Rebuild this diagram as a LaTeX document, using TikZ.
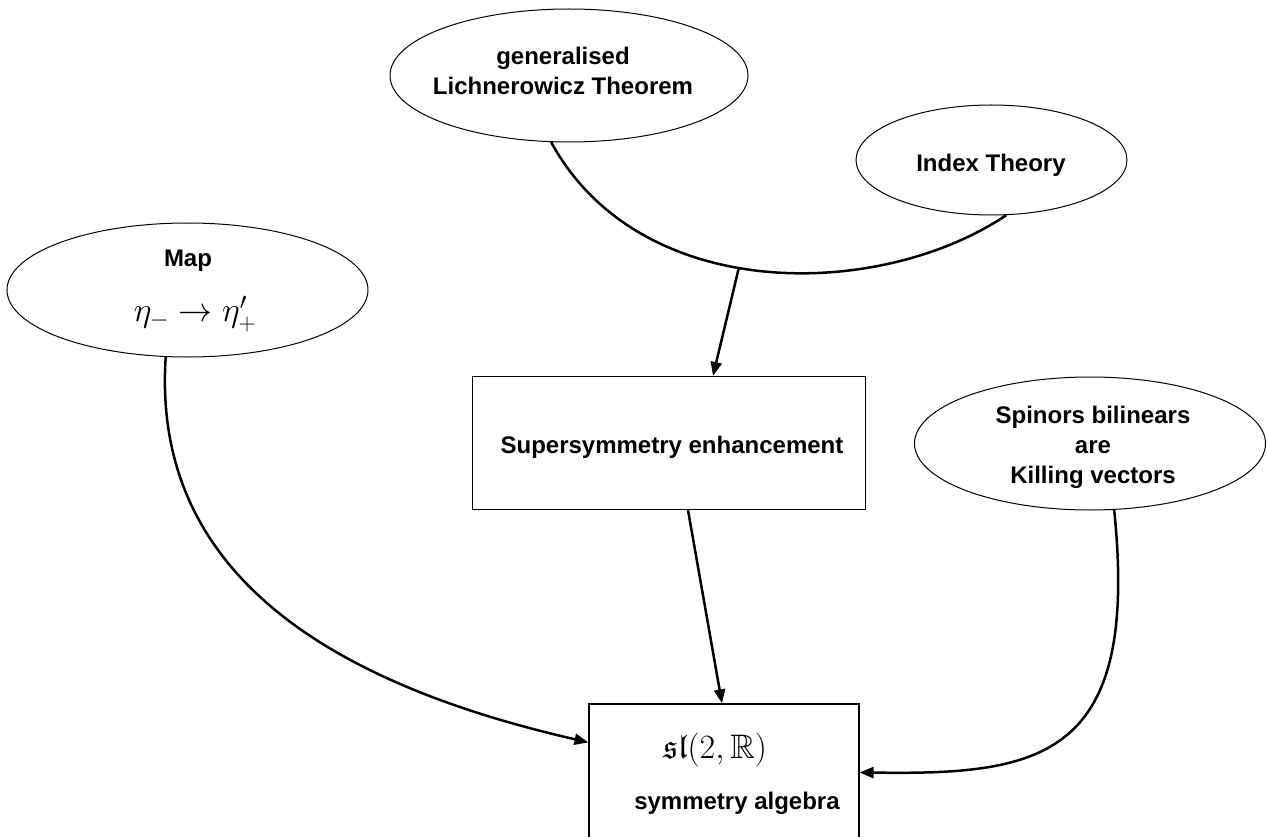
\RequirePackage{fix-cm}
\documentclass[tikz,border=0pt]{standalone}
\usepackage{amssymb}
\usepackage[no-math]{fontspec}
\setmainfont{Liberation Sans}
\usetikzlibrary{shapes.geometric,arrows.meta,calc}
\begin{document}
\begin{tikzpicture}[x=1pt,y=-1pt,
  every node/.style={font=\fontsize{24}{30}\selectfont\bfseries, align=center},
  oval/.style={ellipse, draw, line width=1pt, inner sep=0pt},
  box/.style={rectangle, draw, line width=1.2pt, inner sep=0pt},
  conn/.style={line width=2.5pt},
  arr/.style={conn, -{Triangle[length=14pt,width=11pt]}},
]
\useasboundingbox (0,0) rectangle (1267,837);
\clip (0,0) rectangle (1267,837);

\node[oval, minimum width=358, minimum height=133] (lich) at (569,75.5) {};
\node (lichtxt) at (563,71) {generalised\\Lichnerowicz Theorem};
\node[oval, minimum width=271, minimum height=110] (index) at (991.5,160) {};
\node (indextxt) at (991,165) {Index Theory};
\node[oval, minimum width=361, minimum height=134] (map) at (187.5,290) {};
\node (maptxt) at (188,261) {Map};
\node (mapmath) at (195,314) {\fontsize{34}{40}\selectfont$\eta_-\to\eta'_+$};
\node[box, minimum width=393, minimum height=133] (sup) at (669,443) {};
\node (suptxt) at (672,447) {Supersymmetry enhancement};
\node[oval, minimum width=351, minimum height=133] (spin) at (1090,443.5) {};
\node (spintxt) at (1093,447) {Spinors bilinears\\are\\Killing vectors};
\node[box, minimum width=270, minimum height=150] (sl) at (724,779) {};
\node (sltxt) at (715,750) {\fontsize{34}{40}\selectfont$\mathfrak{sl}(2,\mathbb{R})$};
\node (symtxt) at (737,803) {symmetry algebra};

\draw[conn] (lich.255) .. controls (640,305) and (880,300) .. (index.285) coordinate[pos=0.45] (join);
\draw[arr] (join) -- ($(sup.north)+(44,0)$);
\draw[arr] ($(sup.south)+(19,0)$) -- ($(sl.north)+(-2,0)$);
\draw[arr] (map.252) .. controls (150,590) and (360,690) .. ($(sl.north west)+(0,39)$);
\draw[arr] (spin.290) .. controls (1140,760) and (1040,775) .. ($(sl.north east)+(0,69)$);
\end{tikzpicture}
\end{document}
